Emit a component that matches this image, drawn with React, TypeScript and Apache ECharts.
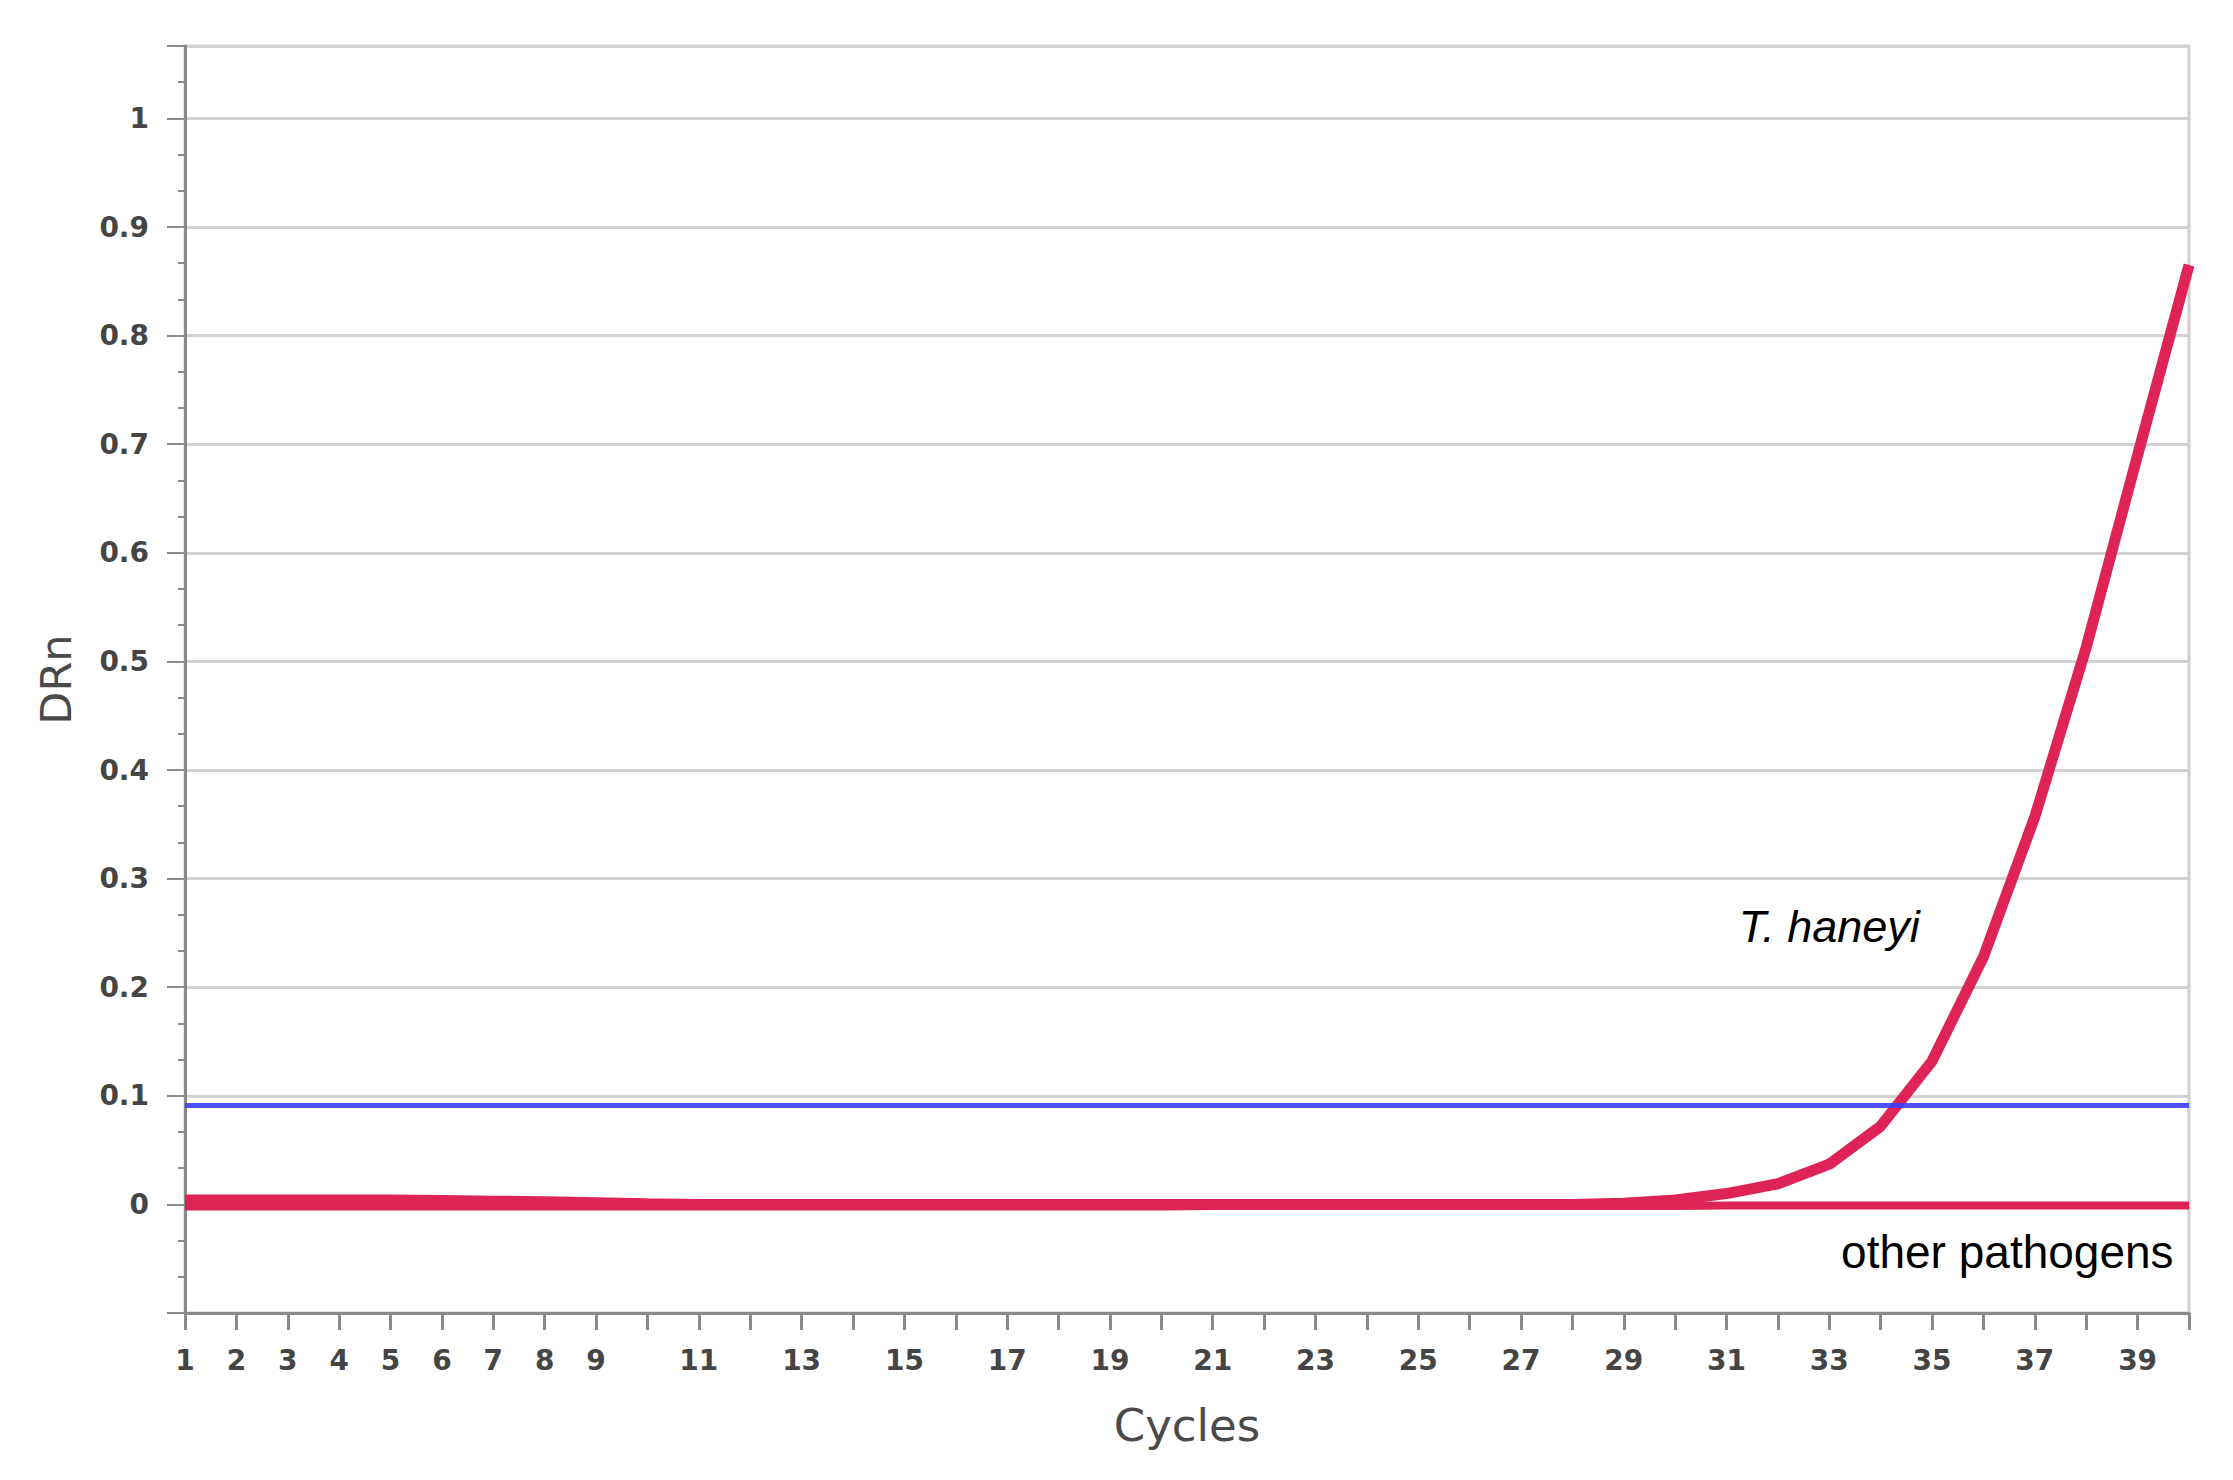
import React, { useEffect, useRef } from "react";
import * as echarts from "echarts";

const CYCLES = [
  1, 2, 3, 4, 5, 6, 7, 8, 9, 10, 11, 12, 13, 14, 15, 16, 17, 18, 19, 20,
  21, 22, 23, 24, 25, 26, 27, 28, 29, 30, 31, 32, 33, 34, 35, 36, 37, 38, 39, 40,
];

const T_HANEYI = [
  0.004, 0.004, 0.004, 0.004, 0.004, 0.0035, 0.003, 0.0025, 0.0015, 0.0005,
  0, 0, 0, 0, 0, 0, 0, 0, 0, 0,
  0, 0, 0, 0, 0, 0, 0, 0, 0.001, 0.004,
  0.01, 0.019, 0.037, 0.072, 0.132, 0.228, 0.357, 0.513, 0.69, 0.865,
];

const OTHER_PATHOGENS = [
  -0.002, -0.002, -0.002, -0.002, -0.002, -0.002, -0.002, -0.002, -0.002, -0.002,
  -0.002, -0.002, -0.002, -0.002, -0.002, -0.002, -0.002, -0.002, -0.002, -0.002,
  -0.0015, -0.0015, -0.0015, -0.0015, -0.0015, -0.0015, -0.0015, -0.0015, -0.0015, -0.0015,
  -0.001, -0.001, -0.001, -0.001, -0.001, -0.001, -0.001, -0.001, -0.001, -0.001,
];

const THRESHOLD = 0.091;

const Y_MIN = -0.1;
const Y_MAX = 32 / 30;
const X_LABELS_SHOWN = [1, 2, 3, 4, 5, 6, 7, 8, 9, 11, 13, 15, 17, 19, 21, 23, 25, 27, 29, 31, 33, 35, 37, 39];

const LABEL_T_HANEYI = { text: "T. haneyi", cycle: 33.0, value: 0.256 };
const LABEL_OTHER = { text: "other pathogens", cycle: 39.7, value: -0.044 };

const RED = "#de2456";
const BLUE = "#3c3cf6";

export default function App() {
  const ref = useRef<HTMLDivElement>(null);

  useEffect(() => {
    document.body.style.margin = "0";
    if (!ref.current) return;
    const chart = echarts.init(ref.current, null, { renderer: "svg" });

    const zip = (ys: number[]) => CYCLES.map((c, i) => [c, ys[i]]);

    chart.setOption({
      animation: false,
      backgroundColor: "#ffffff",
      grid: {
        left: 185,
        right: 44,
        top: 46,
        bottom: 167,
        show: true,
        borderColor: "#cfcfcf",
        borderWidth: 3,
        backgroundColor: "transparent",
      },
      xAxis: {
        type: "value",
        min: 1,
        max: 40,
        interval: 1,
        name: "Cycles",
        nameLocation: "middle",
        nameGap: 90,
        nameTextStyle: {
          fontFamily: "DejaVu Sans",
          fontSize: 45,
          color: "#4a4a4a",
        },
        axisLine: { show: true, onZero: false, lineStyle: { color: "#8a8a8a", width: 3 } },
        axisTick: { show: true, inside: false, length: 17, lineStyle: { color: "#8a8a8a", width: 3 } },
        axisLabel: {
          margin: 33,
          fontFamily: "DejaVu Sans",
          fontSize: 28,
          fontWeight: "bold",
          color: "#454545",
          formatter: (v: number) => (X_LABELS_SHOWN.includes(Math.round(v)) ? String(Math.round(v)) : ""),
        },
        splitLine: { show: false },
      },
      yAxis: {
        type: "value",
        min: Y_MIN,
        max: Y_MAX,
        interval: 0.1,
        name: "DRn",
        nameLocation: "middle",
        nameGap: 108,
        nameRotate: 90,
        nameTextStyle: {
          fontFamily: "DejaVu Sans",
          fontSize: 43,
          color: "#4a4a4a",
        },
        axisLine: { show: true, onZero: false, lineStyle: { color: "#8a8a8a", width: 3 } },
        axisTick: { show: true, inside: false, length: 18, lineStyle: { color: "#8a8a8a", width: 2 } },
        minorTick: { show: true, splitNumber: 3, length: 7, lineStyle: { color: "#8a8a8a", width: 2 } },
        axisLabel: {
          margin: 36,
          fontFamily: "DejaVu Sans",
          fontSize: 28,
          fontWeight: "bold",
          color: "#454545",
          formatter: (v: number) => {
            const t = v * 10;
            if (Math.abs(t - Math.round(t)) > 1e-6) return "";
            if (v < -1e-6 || v > 1.0001) return "";
            return String(Math.round(t) / 10);
          },
        },
        splitLine: { show: true, lineStyle: { color: "#d2d2d2", width: 3 } },
      },
      series: [
        {
          name: "other pathogens",
          type: "line",
          data: zip(OTHER_PATHOGENS),
          symbol: "none",
          smooth: false,
          lineStyle: { color: RED, width: 8 },
          z: 3,
          markPoint: {
            symbol: "circle",
            symbolSize: 0,
            data: [
              {
                coord: [LABEL_OTHER.cycle, LABEL_OTHER.value],
                label: {
                  show: true,
                  position: "left",
                  distance: 0,
                  formatter: LABEL_OTHER.text,
                  fontFamily: "Liberation Sans",
                  fontSize: 46,
                  color: "#000000",
                },
              },
            ],
          },
        },
        {
          name: "T. haneyi",
          type: "line",
          data: zip(T_HANEYI),
          symbol: "none",
          smooth: false,
          lineStyle: { color: RED, width: 11 },
          z: 4,
          markPoint: {
            symbol: "circle",
            symbolSize: 0,
            data: [
              {
                coord: [LABEL_T_HANEYI.cycle, LABEL_T_HANEYI.value],
                label: {
                  show: true,
                  position: "inside",
                  formatter: LABEL_T_HANEYI.text,
                  fontFamily: "Liberation Sans",
                  fontStyle: "italic",
                  fontSize: 45,
                  color: "#000000",
                },
              },
            ],
          },
        },
        {
          name: "threshold",
          type: "line",
          data: CYCLES.map((c) => [c, THRESHOLD]),
          symbol: "none",
          lineStyle: { color: BLUE, width: 5, opacity: 0.9 },
          z: 5,
        },
      ],
    });

    return () => chart.dispose();
  }, []);

  return <div ref={ref} style={{ width: 2233, height: 1480 }} />;
}
